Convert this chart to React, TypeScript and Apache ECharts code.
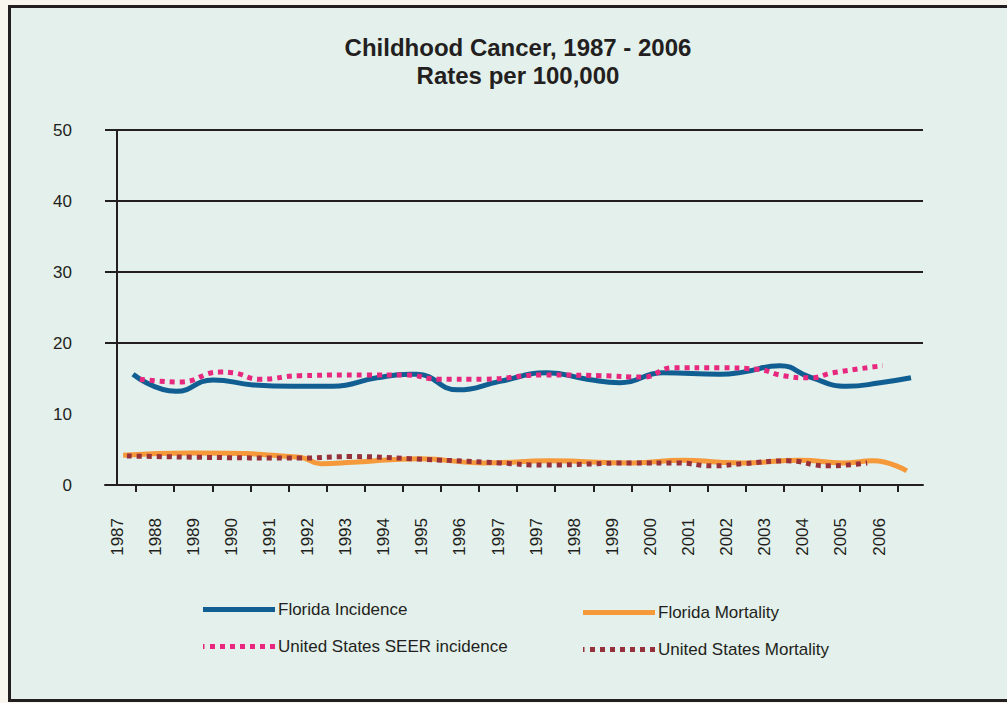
import React, { useEffect, useRef } from 'react';
import * as echarts from 'echarts';

// x-axis tick labels (as printed, 1997 appears twice)
const xLabels = ['1987', '1988', '1989', '1990', '1991', '1992', '1993', '1994', '1995', '1996', '1997', '1997', '1998', '1999', '2000', '2001', '2002', '2003', '2004', '2005', '2006'];

// positions are measured in label slots (0 = "1987" label, 20 = "2006" label)
const flIncX = [0.42, 1.55, 2.52, 3.57, 4.6, 5.67, 6.82, 7.69, 7.87, 8.95, 10.05, 11.29, 12.34, 13.2, 14.33, 15.83, 16.43, 17.4, 18.19, 19.16, 20.03, 20.84];
const flIncY = [15.6, 13.2, 14.8, 14.1, 13.9, 13.9, 15.1, 15.6, 15.6, 13.4, 14.6, 15.8, 14.9, 14.4, 15.8, 15.6, 15.9, 16.8, 15.2, 13.9, 14.4, 15.1];

const flMortX = [0.16, 1.99, 4.8, 5.35, 6.2, 7.95, 9.61, 11.36, 13.54, 14.86, 15.83, 16.43, 17.93, 19.06, 19.84, 20.73];
const flMortY = [4.2, 4.5, 3.9, 3.0, 3.2, 3.7, 3.1, 3.4, 3.1, 3.5, 3.2, 3.1, 3.5, 3.1, 3.4, 2.0];

const seerX = [0.6, 1.65, 2.7, 3.04, 3.75, 4.8, 6.56, 7.56, 8.48, 9.61, 11.18, 12.68, 13.81, 14.59, 15.83, 16.8, 17.48, 18.19, 18.79, 20.1];
const seerY = [14.9, 14.5, 15.9, 15.8, 14.9, 15.4, 15.5, 15.5, 14.9, 14.9, 15.5, 15.4, 15.2, 16.5, 16.5, 16.3, 15.4, 15.1, 15.8, 16.8];

const usMortX = [0.26, 2.18, 4.8, 6.12, 7.69, 10.05, 11.18, 13.54, 14.7, 15.64, 16.43, 17.59, 18.64, 19.69];
const usMortY = [4.1, 3.9, 3.8, 4.0, 3.7, 3.1, 2.8, 3.1, 3.1, 2.7, 3.0, 3.4, 2.7, 3.1];

const yTicks = [0, 10, 20, 30, 40, 50];

const pairs = (xs: number[], ys: number[]) => xs.map((x, i) => [x, ys[i]]);

// legend key shapes (72 x 5): a solid bar and a row of square dots
const solidKey = 'path://M0,0h72v5h-72z';
const dotKey =
  'path://M0,0h1.5v5h-1.5z M7,0h5v5h-5z M17,0h5v5h-5z M27,0h5v5h-5z M37,0h5v5h-5z M47,0h5v5h-5z M57,0h5v5h-5z M67,0h5v5h-5z';

export default function App() {
  const ref = useRef<HTMLDivElement>(null);

  useEffect(() => {
    document.body.style.margin = '0';
    document.documentElement.style.overflow = 'hidden';
    document.body.style.overflow = 'hidden';
    const chart = echarts.init(ref.current!, null, { renderer: 'svg' });
    const ink = '#231f20';
    const font = '"Liberation Sans", Arial, sans-serif';
    const textStyle = { fontSize: 17, color: ink, fontFamily: font };

    const legendBase = {
      orient: 'vertical',
      itemWidth: 72,
      itemHeight: 5,
      itemGap: 20,
      padding: 0,
      selectedMode: false,
      textStyle: { ...textStyle, padding: [0, 0, 0, -2] },
    };

    chart.setOption({
      animation: false,
      backgroundColor: 'transparent',
      title: {
        text: 'Childhood Cancer, 1987 - 2006\nRates per 100,000',
        left: 513,
        top: 28,
        textAlign: 'center',
        textStyle: { fontSize: 24, fontWeight: 'bold', color: ink, fontFamily: font, lineHeight: 28 },
      },
      legend: [
        {
          ...legendBase,
          left: 203,
          top: 601,
          data: [
            { name: 'Florida Incidence', icon: solidKey },
            { name: 'United States SEER incidence', icon: dotKey },
          ],
        },
        {
          ...legendBase,
          left: 583,
          top: 604,
          data: [
            { name: 'Florida Mortality', icon: solidKey },
            { name: 'United States Mortality', icon: dotKey },
          ],
        },
      ],
      grid: [
        { left: 105, top: 130, width: 818, height: 355 },
        { left: 98, top: 130, width: 800.1, height: 355 },
      ],
      xAxis: [
        {
          type: 'value',
          gridIndex: 0,
          min: -0.315,
          max: 21.155,
          axisLine: { show: true, lineStyle: { color: ink, width: 2 } },
          axisTick: { show: false },
          axisLabel: { show: false },
          splitLine: { show: false },
        },
        {
          type: 'category',
          gridIndex: 1,
          data: xLabels,
          boundaryGap: true,
          axisLine: { show: false },
          axisTick: { show: true, length: 7, interval: (i: number) => i !== 0, lineStyle: { color: ink, width: 2 } },
          axisLabel: { interval: 0, rotate: 90, margin: 33, ...textStyle },
          splitLine: { show: false },
        },
      ],
      yAxis: [
        {
          type: 'value',
          gridIndex: 0,
          min: yTicks[0],
          max: yTicks[yTicks.length - 1],
          interval: 10,
          offset: -8,
          axisLine: { show: true, lineStyle: { color: ink, width: 2 } },
          axisTick: { show: false },
          axisLabel: { margin: 41, ...textStyle },
          splitLine: {
            show: true,
            lineStyle: { color: ['rgba(0,0,0,0)', 'rgba(0,0,0,0)', ink, ink, ink, ink], width: 2 },
          },
        },
        { type: 'value', gridIndex: 1, show: false, min: 0, max: 50 },
      ],
      series: [
        {
          type: 'line',
          name: 'Florida Incidence',
          xAxisIndex: 0,
          yAxisIndex: 0,
          data: pairs(flIncX, flIncY),
          smooth: 0.5,
          symbol: 'none',
          itemStyle: { color: '#105e92' },
          lineStyle: { color: '#105e92', width: 5 },
        },
        {
          type: 'line',
          name: 'Florida Mortality',
          xAxisIndex: 0,
          yAxisIndex: 0,
          data: pairs(flMortX, flMortY),
          smooth: 0.5,
          symbol: 'none',
          itemStyle: { color: '#f6993a' },
          lineStyle: { color: '#f6993a', width: 5 },
        },
        {
          type: 'line',
          name: 'United States SEER incidence',
          xAxisIndex: 0,
          yAxisIndex: 0,
          data: pairs(seerX, seerY),
          smooth: 0.5,
          symbol: 'none',
          itemStyle: { color: '#e8287f' },
          lineStyle: { color: '#e8287f', width: 5, type: [5, 5], cap: 'butt' },
        },
        {
          type: 'line',
          name: 'United States Mortality',
          xAxisIndex: 0,
          yAxisIndex: 0,
          data: pairs(usMortX, usMortY),
          smooth: 0.5,
          symbol: 'none',
          itemStyle: { color: '#96303a' },
          lineStyle: { color: '#96303a', width: 5, type: [5, 5], cap: 'butt' },
        },
      ],
    });

    return () => chart.dispose();
  }, []);

  return (
    <div style={{ position: 'relative', width: 1007, height: 703, overflow: 'hidden', background: '#f8f5ef' }}>
      <div
        style={{
          position: 'absolute',
          left: 8,
          top: 5,
          width: 1040,
          height: 697,
          boxSizing: 'border-box',
          border: '3px solid #231f20',
          background: '#e3f0eb',
        }}
      />
      <div ref={ref} style={{ position: 'absolute', left: 0, top: 0, width: 1007, height: 703 }} />
    </div>
  );
}
